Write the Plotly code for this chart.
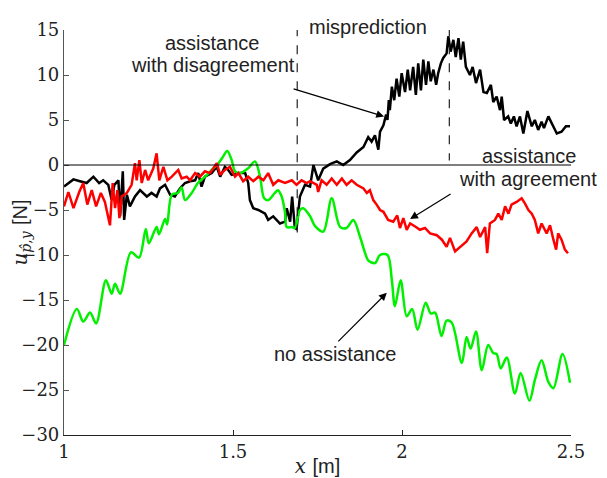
import plotly.graph_objects as go

# ---- data: no assistance (green)
x_none = [1.000, 1.038, 1.057, 1.077, 1.095, 1.124, 1.141, 1.151, 1.166, 1.198, 1.222, 1.242, 1.251,
          1.274, 1.281, 1.299, 1.305, 1.319, 1.337, 1.348, 1.358, 1.378, 1.396, 1.417, 1.437, 1.457,
          1.470, 1.483, 1.496, 1.506, 1.521, 1.545, 1.565, 1.580, 1.592, 1.604, 1.624, 1.633, 1.644,
          1.654, 1.659, 1.674, 1.683, 1.698, 1.708, 1.728, 1.743, 1.767, 1.792, 1.817, 1.836, 1.856,
          1.876, 1.891, 1.900, 1.920, 1.935, 1.957, 1.970, 1.979, 1.996, 2.014, 2.030, 2.046, 2.070,
          2.085, 2.098, 2.117, 2.132, 2.147, 2.177, 2.191, 2.203, 2.219, 2.236, 2.255, 2.270, 2.280,
          2.292, 2.310, 2.334, 2.351, 2.377, 2.393, 2.413, 2.433, 2.448, 2.475, 2.497]
y_none = [-20.0, -16.0, -17.4, -16.4, -17.6, -12.8, -14.3, -13.2, -14.3, -9.7, -10.3, -7.1, -8.7,
          -6.9, -7.7, -6.0, -6.6, -3.3, -3.1, -2.5, -3.9, -3.1, -2.0, -1.3, -0.55, 0.2,
          0.9, 1.55, 0.55, -0.7, -0.9, -0.35, 0.4, -1.3, -3.7, -3.9, -3.1, -2.8, -3.5,
          -5.3, -6.9, -6.9, -7.0, -5.0, -4.8, -5.7, -6.8, -7.4, -3.7, -6.9, -7.0, -6.1,
          -8.0, -9.8, -10.6, -10.9, -10.0, -10.0, -12.8, -15.7, -12.8, -16.8, -16.0, -18.3, -15.3,
          -16.5, -16.4, -19.0, -17.3, -17.5, -22.0, -19.1, -20.4, -18.5, -22.8, -20.0, -20.9, -21.0,
          -22.6, -21.4, -25.4, -23.1, -26.2, -23.9, -21.7, -24.1, -24.8, -21.0, -24.2]

# ---- data: assistance with disagreement (black)
x_dis = [1.000, 1.028, 1.047, 1.067, 1.087, 1.104, 1.116, 1.131, 1.141, 1.149, 1.161, 1.166, 1.174,
         1.178, 1.186, 1.195, 1.210, 1.225, 1.245, 1.259, 1.274, 1.284, 1.299, 1.314, 1.328, 1.343,
         1.358, 1.373, 1.388, 1.397, 1.407, 1.417, 1.437, 1.452, 1.462, 1.476, 1.486, 1.496, 1.516,
         1.536, 1.545, 1.550, 1.560, 1.575, 1.595, 1.604, 1.619, 1.639, 1.654, 1.659, 1.669, 1.675,
         1.683, 1.688, 1.698, 1.713, 1.728, 1.738, 1.752, 1.767, 1.787, 1.807, 1.826, 1.846, 1.866,
         1.886, 1.900, 1.910, 1.920, 1.930, 1.935, 1.945, 1.953, 1.957, 1.961, 1.964, 1.970, 1.977,
         1.984, 1.992, 1.999, 2.009, 2.017, 2.024, 2.033, 2.041, 2.048, 2.056, 2.063, 2.071, 2.078,
         2.085, 2.093, 2.101, 2.107, 2.115, 2.122, 2.132, 2.137, 2.144, 2.152, 2.159, 2.167, 2.174,
         2.181, 2.189, 2.201, 2.209, 2.219, 2.231, 2.241, 2.251, 2.263, 2.270, 2.280, 2.290, 2.295,
         2.302, 2.314, 2.322, 2.331, 2.339, 2.349, 2.359, 2.371, 2.384, 2.393, 2.403, 2.413, 2.420,
         2.433, 2.443, 2.458, 2.472, 2.485, 2.497]
y_dis = [-2.4, -1.6, -1.8, -2.0, -1.3, -2.0, -1.7, -2.2, -3.9, -2.2, -1.7, -5.7, -0.7,
         -6.1, -3.3, -4.6, -3.5, -2.8, -3.5, -3.1, -3.5, -2.6, -2.2, -3.3, -3.5, -2.6,
         -2.0, -1.8, -1.7, -0.9, -2.4, -1.3, -0.9, -0.2, -1.3, -0.2, -0.55, -1.1, -0.9,
         -0.9, -2.0, -3.9, -4.8, -5.0, -5.4, -6.1, -5.7, -6.5, -6.3, -4.8, -6.3, -3.5,
         -7.0, -7.1, -3.5, -2.2, -2.4, 0.0, -1.7, -0.4, 0.1, 0.4, 0.0, 0.55, 1.4,
         2.0, 3.1, 2.6, 3.3, 1.7, 3.7, 4.4, 5.6, 5.0, 7.2, 6.1, 8.7, 7.2,
         9.6, 7.6, 10.2, 8.1, 10.6, 8.3, 10.9, 7.8, 11.3, 8.3, 11.7, 8.9, 11.5,
         9.3, 10.6, 8.9, 10.2, 11.3, 11.9, 12.4, 14.3, 12.6, 13.9, 12.0, 14.1, 11.7,
         13.7, 10.9, 10.0, 10.9, 9.1, 10.6, 8.1, 8.0, 8.9, 7.0, 7.6, 6.1, 7.6,
         5.0, 5.4, 4.6, 5.4, 4.3, 5.4, 3.5, 6.0, 4.3, 5.0, 3.9, 4.8, 4.1,
         5.4, 4.6, 3.5, 3.7, 4.3, 4.3]

# ---- data: assistance with agreement (red)
x_agr = [1.000, 1.013, 1.028, 1.045, 1.057, 1.069, 1.082, 1.095, 1.109, 1.121, 1.136, 1.144, 1.151,
         1.158, 1.164, 1.171, 1.186, 1.200, 1.210, 1.215, 1.223, 1.230, 1.240, 1.249, 1.264, 1.274,
         1.282, 1.294, 1.306, 1.319, 1.338, 1.348, 1.363, 1.373, 1.388, 1.402, 1.417, 1.432, 1.452,
         1.462, 1.476, 1.491, 1.506, 1.516, 1.530, 1.545, 1.560, 1.575, 1.590, 1.604, 1.619, 1.634,
         1.654, 1.674, 1.688, 1.703, 1.718, 1.728, 1.748, 1.752, 1.762, 1.777, 1.792, 1.807, 1.822,
         1.836, 1.851, 1.866, 1.886, 1.896, 1.905, 1.915, 1.925, 1.935, 1.945, 1.959, 1.974, 1.986,
         1.994, 2.004, 2.014, 2.024, 2.038, 2.053, 2.068, 2.083, 2.103, 2.118, 2.132, 2.142, 2.157,
         2.172, 2.191, 2.206, 2.221, 2.231, 2.246, 2.252, 2.260, 2.275, 2.285, 2.295, 2.305, 2.315,
         2.324, 2.339, 2.354, 2.364, 2.374, 2.384, 2.393, 2.403, 2.413, 2.428, 2.438, 2.448, 2.456,
         2.462, 2.472, 2.482, 2.491]
y_agr = [-4.6, -3.0, -4.8, -3.0, -2.0, -4.4, -2.8, -4.6, -3.1, -4.1, -6.7, -2.0, -4.8,
         -2.8, -5.9, -3.5, -3.1, -2.2, 0.2, -1.7, 0.55, -2.0, -0.55, -1.7, -0.4, 1.3,
         -1.7, -0.2, -1.7, -1.3, -0.55, -1.5, -1.3, -1.7, -0.9, -1.3, -0.7, -0.9, 0.2,
         -1.1, -0.55, -0.2, -1.3, -0.9, -1.8, -1.3, -1.8, -1.3, -1.7, -0.9, -2.2, -1.7,
         -2.0, -1.7, -2.2, -1.7, -2.0, -1.8, -2.2, -3.0, -1.7, -2.2, -1.5, -2.2, -1.5,
         -2.2, -1.7, -2.2, -2.6, -3.1, -2.8, -3.9, -4.4, -5.0, -5.2, -6.1, -6.3, -5.6,
         -7.0, -5.9, -7.2, -6.5, -6.8, -7.2, -7.0, -7.6, -7.8, -8.3, -9.1, -8.1, -9.6,
         -9.1, -8.5, -7.6, -6.9, -8.0, -6.9, -9.8, -6.5, -6.1, -5.4, -6.1, -4.6, -5.4,
         -4.4, -4.1, -3.7, -4.3, -5.0, -5.4, -6.1, -7.6, -6.5, -7.6, -6.7, -8.3, -9.4,
         -7.6, -8.3, -9.4, -9.8]

x_ticks = [1, 1.5, 2, 2.5]
x_tick_labels = ["1", "1.5", "2", "2.5"]
y_ticks = [-30, -25, -20, -15, -10, -5, 0, 5, 10, 15]
y_tick_labels = ["\u221230", "\u221225", "\u221220", "\u221215", "\u221210", "\u22125", "0", "5", "10", "15"]

misprediction_x = [1.69, 2.14]

fig = go.Figure()
fig.add_trace(go.Scatter(x=x_dis, y=y_dis, mode="lines",
                         line=dict(color="#000000", width=2.5), showlegend=False))
fig.add_trace(go.Scatter(x=x_none, y=y_none, mode="lines",
                         line=dict(color="#00f000", width=2.5, shape="spline", smoothing=0.9),
                         showlegend=False))
fig.add_trace(go.Scatter(x=x_agr, y=y_agr, mode="lines",
                         line=dict(color="#ff0000", width=2.5), showlegend=False))

# zero line
fig.add_shape(type="line", x0=1, x1=2.5, y0=0, y1=0, xref="x", yref="y",
              line=dict(color="#000000", width=1.2))
# misprediction dashed lines
fig.add_shape(type="line", x0=misprediction_x[0], x1=misprediction_x[0], y0=15.3, y1=-7.5,
              xref="x", yref="y", line=dict(color="#222222", width=1.2, dash="dash"))
fig.add_shape(type="line", x0=misprediction_x[1], x1=misprediction_x[1], y0=15.3, y1=0.5,
              xref="x", yref="y", line=dict(color="#222222", width=1.2, dash="dash"))

tfont = dict(family="Liberation Sans, Arial, sans-serif", size=20, color="#222222")
annots = [
    dict(x=0.600, y=1.0395, xref="paper", yref="paper", text="misprediction",
         showarrow=False, font=tfont),
    dict(x=1.440, y=13.56, text="assistance", showarrow=False, font=tfont),
    dict(x=1.440, y=11.1, text="with disagreement", showarrow=False, font=tfont),
    dict(x=2.376, y=1.03, text="assistance", showarrow=False, font=tfont),
    dict(x=2.374, y=-1.52, text="with agreement", showarrow=False, font=tfont),
    dict(x=1.803, y=-20.97, text="no assistance", showarrow=False, font=tfont),
    dict(x=1.947, y=5.4, ax=-92, ay=-28, text="", showarrow=True, arrowhead=2,
         arrowsize=1.3, arrowwidth=1.2, arrowcolor="#000000"),
    dict(x=2.024, y=-6.0, ax=42, ay=-26, text="", showarrow=True, arrowhead=2,
         arrowsize=1.3, arrowwidth=1.2, arrowcolor="#000000"),
    dict(x=1.955, y=-14.2, ax=-50, ay=50, text="", showarrow=True, arrowhead=2,
         arrowsize=1.3, arrowwidth=1.2, arrowcolor="#000000"),
]
for a in annots:
    a.setdefault("xref", "x")
    a.setdefault("yref", "y")
    fig.add_annotation(**a)

serif = "DejaVu Serif, serif"
fig.update_layout(
    width=599, height=470,
    margin=dict(l=56, r=36, t=22, b=43, autoexpand=False),
    plot_bgcolor="white", paper_bgcolor="white",
    xaxis=dict(range=[1, 2.5], tickvals=x_ticks, ticktext=x_tick_labels, automargin=False,
               ticks="inside", ticklen=5, tickcolor="#222", showline=True, linecolor="#222",
               linewidth=1, showgrid=False, zeroline=False, mirror=False,
               tickfont=dict(family=serif, size=18, color="#222"),
               title=dict(text="<i>x</i> <span style='font-family:Liberation Sans'>[m]</span>",
                          font=dict(family=serif, size=20, color="#222"), standoff=0)),
    yaxis=dict(range=[-30, 15], tickvals=y_ticks, ticktext=y_tick_labels, automargin=False,
               ticks="inside", ticklen=5, tickcolor="#555", showline=True, linecolor="#555",
               linewidth=1.2, showgrid=False, zeroline=False, mirror=False,
               tickfont=dict(family=serif, size=18, color="#222"),
               title=dict(text="<i>u</i><sub><i>p\u0302</i>,<i>y</i></sub> <span style='font-family:Liberation Sans'>[N]</span>",
                          font=dict(family=serif, size=20, color="#222"), standoff=0)),
)

fig.write_html("out.html")
